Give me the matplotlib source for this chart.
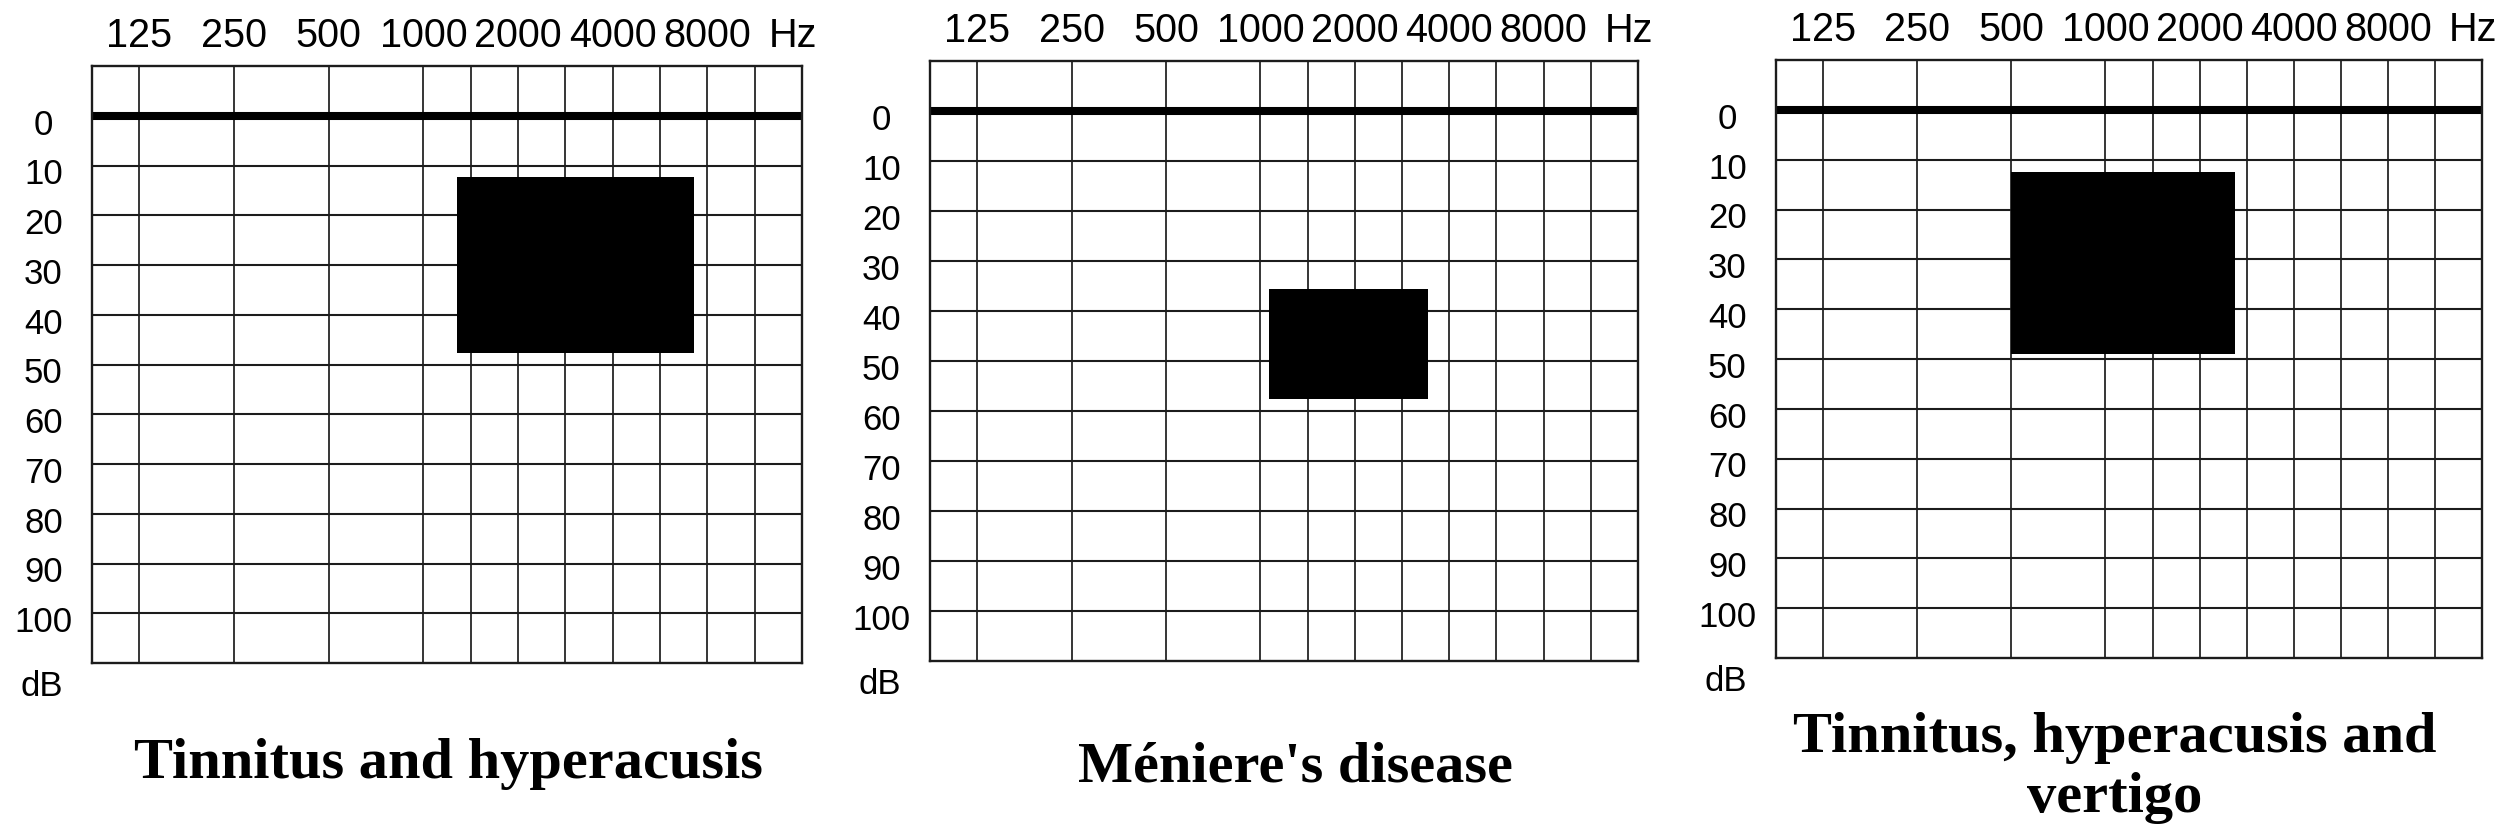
import matplotlib
matplotlib.use('Agg')
import matplotlib.pyplot as plt
from matplotlib import font_manager
import numpy as np

# audiogram grid (Hz / dB HL)
freq_labels = [125, 250, 500, 1000, 2000, 4000, 8000]
freq_lines = [125, 250, 500, 1000, 1414, 2000, 2828, 4000, 5657, 8000, 11314]
db_labels = [0, 10, 20, 30, 40, 50, 60, 70, 80, 90, 100]
db_lines = [10, 20, 30, 40, 50, 60, 70, 80, 90, 100]

# one shaded area per panel
titles = ['Tinnitus and hyperacusis', "Méniere's disease", 'Tinnitus, hyperacusis and\nvertigo']
box_f_low = [1275, 1064, 500]
box_f_high = [7280, 3420, 2594]
box_db_top = [12.4, 35.6, 12.5]
box_db_bottom = [47.6, 57.5, 49.0]

W, H = 2509, 837
# panel boxes in pixels: left, top, right, bottom
panel_px = [(92, 67, 802, 664), (930, 62, 1638, 662), (1776, 61, 2482, 659)]
title_px = [(448, 778), (1295, 782), (2115, 812)]

line_col = '#1c1c1c'
serif = ['Liberation Serif', 'DejaVu Serif']

# the labels in the original are a narrow grotesque
installed = {f.name for f in font_manager.fontManager.ttflist}
if 'Liberation Sans Narrow' in installed:
    sans = ['Liberation Sans Narrow', 'DejaVu Sans']
    xfs, yfs = 33, 27
else:
    sans = ['Liberation Sans', 'DejaVu Sans']
    xfs, yfs = 28.5, 25

fig = plt.figure(figsize=(W / 100, H / 100), dpi=100)
fig.patch.set_facecolor('white')

for i in range(3):
    l, t, r, b = panel_px[i]
    ax = fig.add_axes([l / W, (H - b) / H, (r - l) / W, (b - t) / H])
    ax.set_xscale('log', base=2)
    ax.set_xlim(125 / np.sqrt(2), 16000)
    ax.set_ylim(110, -10)
    ax.set_xticks([])
    ax.set_yticks([])
    ax.minorticks_off()
    for s in ax.spines.values():
        s.set_linewidth(1.7)
        s.set_color(line_col)

    for f in freq_lines:
        ax.axvline(f, color=line_col, lw=1.25, zorder=1)
    for d in db_lines:
        ax.axhline(d, color=line_col, lw=1.5, zorder=1)
    ax.axhline(0, color='black', lw=5.8, zorder=2)

    ax.fill_between([box_f_low[i], box_f_high[i]], box_db_top[i], box_db_bottom[i],
                    color='black', lw=0, zorder=3)

    for f in freq_labels:
        ax.annotate(str(f), xy=(f, 1), xycoords=('data', 'axes fraction'),
                    xytext=(0, 22), textcoords='offset points',
                    ha='center', va='center', fontsize=xfs, family=sans)
    ax.annotate('Hz', xy=(14930, 1), xycoords=('data', 'axes fraction'),
                xytext=(0, 22), textcoords='offset points',
                ha='center', va='center', fontsize=xfs, family=sans)

    for d in db_labels:
        ax.annotate(str(d), xy=(0, d), xycoords=('axes fraction', 'data'),
                    xytext=(-35, -6), textcoords='offset points',
                    ha='center', va='center', fontsize=yfs, family=sans)
    ax.annotate('dB', xy=(0, 0), xycoords='axes fraction',
                xytext=(-36, -16.5), textcoords='offset points',
                ha='center', va='center', fontsize=yfs, family=sans)

    tx, ty = title_px[i]
    fig.text(tx / W, (H - ty) / H, titles[i], ha='center', va='baseline',
             fontsize=42, fontweight='bold', family=serif,
             multialignment='center', linespacing=1.2)

fig.savefig('out.png', dpi=100, facecolor='white')
